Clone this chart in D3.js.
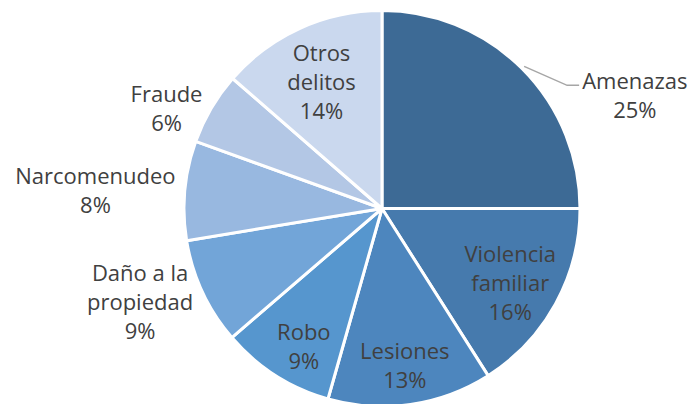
<!DOCTYPE html>
<html>
<head>
<meta charset="utf-8">
<script src="https://cdn.jsdelivr.net/npm/d3@7"></script>
<style>
  body { margin: 0; background: #fff; }
  text { font-family: "Open Sans", sans-serif; fill: #404040; }
</style>
</head>
<body>
<script>
/* Share of reported crimes (percent) */
var categories = ["Amenazas", "Violencia familiar", "Lesiones", "Robo", "Daño a la propiedad", "Narcomenudeo", "Fraude", "Otros delitos"];
var values = [25.0, 16.0, 13.4, 9.3, 8.7, 8.1, 5.9, 13.6];
var colors = ["#3d6a95", "#467aad", "#4d86be", "#5696ce", "#72a5d8", "#98b8e0", "#b3c7e5", "#cad8ee"];
/* how each label is broken into lines */
var labelLines = [["Amenazas"], ["Violencia", "familiar"], ["Lesiones"], ["Robo"], ["Daño a la", "propiedad"], ["Narcomenudeo"], ["Fraude"], ["Otros", "delitos"]];

/* Layout */
var width = 696,
    height = 404;
var cx = 382, cy = 208.5, radius = 198;
var lineHeight = 29;
// label anchor: distance (in radii) and angle nudge (deg) from the slice middle
var labelPos = [
    {r: 1.0, da: 0, outside: true},
    {r: 0.75, da: 1.5},
    {r: 0.80, da: 0},
    {r: 0.80, da: -3},
    {r: 1.31, da: 3.9},
    {r: 1.45, da: -1.7},
    {r: 1.20, da: -5.5},
    {r: 0.71, da: -1}
];

var svg = d3.select("body").append("svg")
    .attr("width", width)
    .attr("height", height);

var g = svg.append("g").attr("transform", "translate(" + cx + "," + cy + ")");

var pie = d3.pie().sort(null).value(function(d) { return d; });
var arcs = pie(values);
var total = d3.sum(values);
var fmt = d3.format(".0%");

var arc = d3.arc().innerRadius(0).outerRadius(radius);

g.selectAll("path.slice")
    .data(arcs)
    .enter()
    .append("path")
    .attr("class", "slice")
    .attr("d", arc)
    .attr("fill", function(d, i) { return colors[i]; })
    .attr("stroke", "#fff")
    .attr("stroke-width", 3)
    .attr("stroke-linejoin", "round");

function polar(angle, r) {
    return [Math.sin(angle) * r, -Math.cos(angle) * r];
}

arcs.forEach(function(d, i) {
    var mid = (d.startAngle + d.endAngle) / 2;
    var lp = labelPos[i];
    var lines = labelLines[i].concat([fmt(d.value / total)]);
    var ax, ay;

    if (lp.outside) {
        // leader line from the arc to the label
        var p0 = polar(mid, radius + 3);
        var p1 = [p0[0] + 43, p0[1] + 19];
        var p2 = [p1[0] + 12, p1[1]];
        g.append("polyline")
            .attr("points", [p0, p1, p2].map(function(p) { return p.join(","); }).join(" "))
            .attr("fill", "none")
            .attr("stroke", "#a6a6a6")
            .attr("stroke-width", 1.5);
        ax = p2[0] + 3;
        ay = p2[1] + 4;
        var t = g.append("text")
            .attr("font-size", 22)
            .text(lines[0]);
        var tw = t.node().getComputedTextLength();
        t.remove();
        var cxText = ax + tw / 2;
        var txt = g.append("text")
            .attr("font-size", 22)
            .attr("text-anchor", "middle");
        lines.forEach(function(l, k) {
            txt.append("tspan")
                .attr("x", cxText)
                .attr("y", ay + k * lineHeight)
                .text(l);
        });
        return;
    }

    var p = polar(mid + lp.da * Math.PI / 180, radius * lp.r);
    ax = p[0];
    ay = p[1] - (lines.length - 1) * lineHeight / 2 + 8;
    var text = g.append("text")
        .attr("font-size", 22)
        .attr("text-anchor", "middle");
    lines.forEach(function(l, k) {
        text.append("tspan")
            .attr("x", ax)
            .attr("y", ay + k * lineHeight)
            .text(l);
    });
});
</script>
</body>
</html>
